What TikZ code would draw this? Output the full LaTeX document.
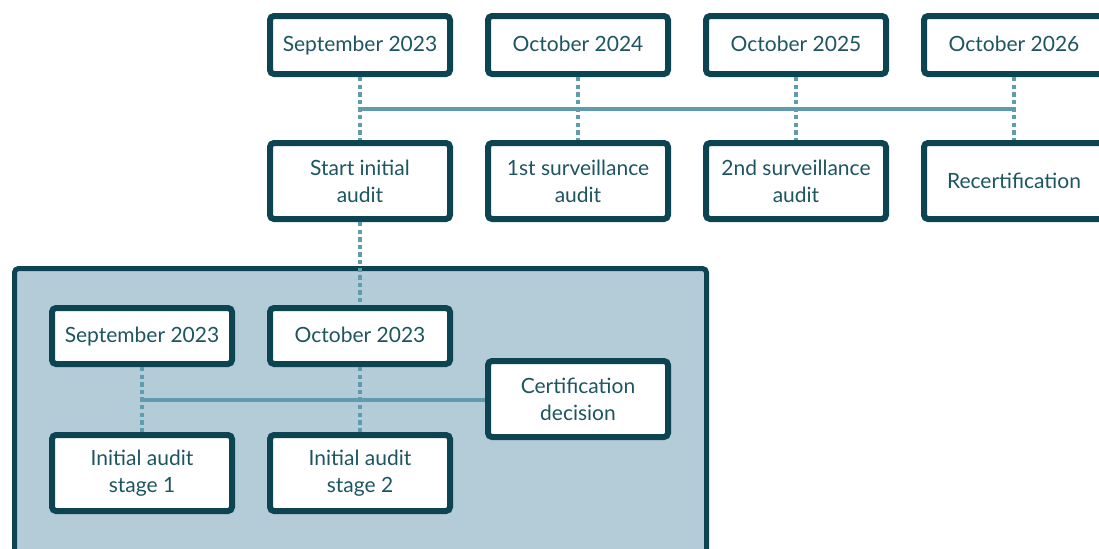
\documentclass[tikz,border=0pt]{standalone}
\usepackage{fontspec}
\setmainfont{Lato}
\usetikzlibrary{positioning,calc}

\definecolor{boxline}{HTML}{0C4451}
\definecolor{connline}{HTML}{5F9CAE}
\definecolor{boxtext}{HTML}{1D5561}
\definecolor{panelfill}{HTML}{B3CCD7}

\begin{document}
\begin{tikzpicture}[node distance=109pt,
    box/.style={draw=boxline,fill=white,line width=3pt,rounded corners=2pt,
        minimum width=90pt,text=boxtext,align=center,inner sep=2pt,
        font=\fontsize{10.5}{13.5}\selectfont},
    datebox/.style={box,minimum height=29pt,text height=9pt,text depth=2.2pt},
    stepbox/.style={box,minimum height=38pt},
    link/.style={connline,line width=2pt},
    dotlink/.style={connline,line width=2pt,dash pattern=on 2.2pt off 1.6pt}]
    \clip (0,0) rectangle (549.5pt,-274pt);

    % initial audit panel
    \draw[boxline,fill=panelfill,line width=2.5pt,rounded corners=2pt]
        (7.25pt,-134.25pt) rectangle (353.25pt,-295pt);

    \node[datebox] (sep23) at (180pt,-22.5pt) {September 2023};
    \node[datebox] (oct24) [right of=sep23] {October 2024};
    \node[datebox] (oct25) [right of=oct24] {October 2025};
    \node[datebox] (oct26) [right of=oct25] {October 2026};

    \node[stepbox] (start) [node distance=68pt,below of=sep23] {Start initial\\audit};
    \node[stepbox] (surv1) [node distance=68pt,below of=oct24] {1st surveillance\\audit};
    \node[stepbox] (surv2) [node distance=68pt,below of=oct25] {2nd surveillance\\audit};
    \node[stepbox] (recert) [node distance=68pt,below of=oct26] {Recertification};

    \node[datebox,minimum height=28pt] (oct23) [node distance=77.5pt,below of=start] {October 2023};
    \node[datebox,minimum height=28pt] (isep23) [left of=oct23] {September 2023};
    \node[stepbox] (stage1) [node distance=68.5pt,below of=isep23] {Initial audit\\stage 1};
    \node[stepbox] (stage2) [node distance=68.5pt,below of=oct23] {Initial audit\\stage 2};
    \node[stepbox] (decision) [right of=oct23,yshift=-31.5pt] {Certification\\decision};

    \path[dotlink]
    (sep23) edge (start)
    (oct24) edge (surv1)
    (oct25) edge (surv2)
    (oct26) edge (recert)
    (start) edge (oct23)
    (isep23) edge (stage1)
    (oct23) edge (stage2);

    \coordinate (top) at ($(sep23.south)!0.5!(start.north)$);
    \coordinate (inner) at ($(isep23.south)!0.5!(stage1.north)$);
    \draw[link] (top) -- (top -| oct26);
    \draw[link] (inner) -- (inner -| decision.west);
\end{tikzpicture}
\end{document}
